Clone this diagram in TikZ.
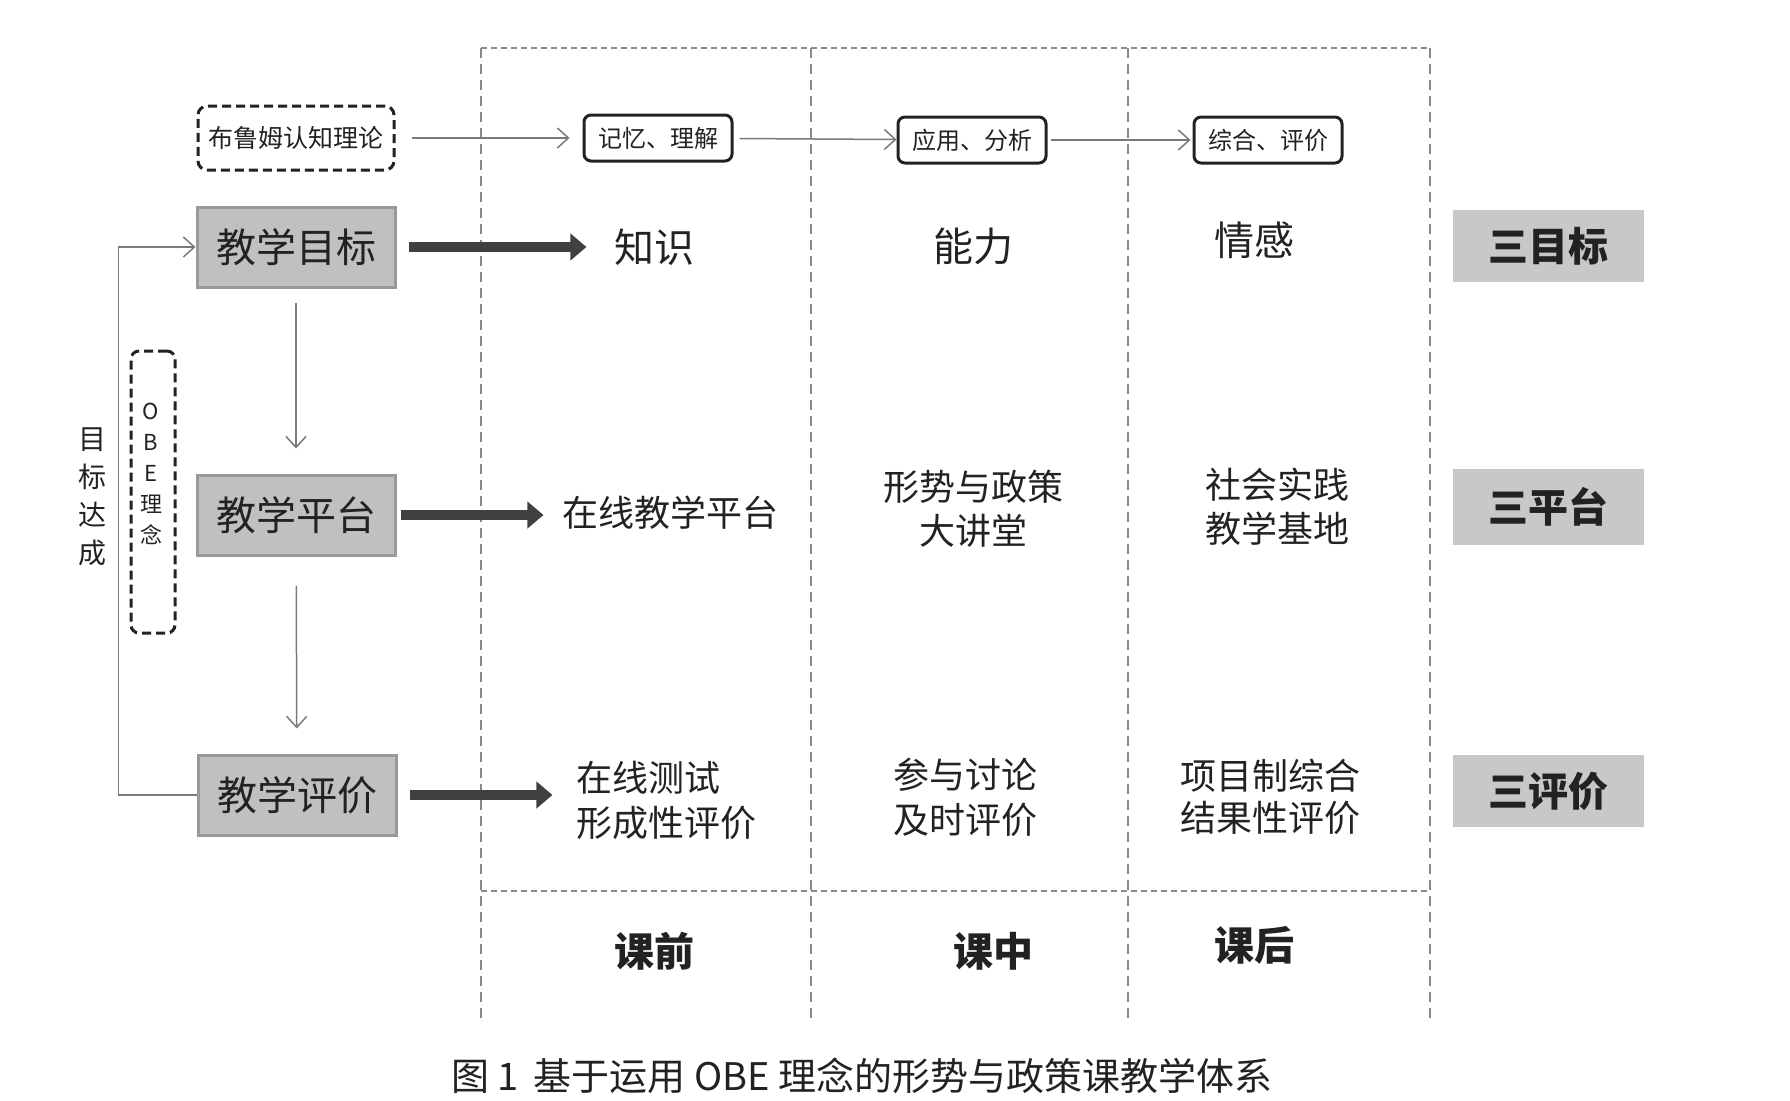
\documentclass[tikz,border=0pt]{standalone}
\usepackage{fontspec}
\setmainfont{Noto Sans CJK SC}
\usetikzlibrary{arrows.meta}

\definecolor{boxgray}{HTML}{C0C0C0}
\definecolor{boxedge}{HTML}{999999}
\definecolor{sidegray}{HTML}{C8C8C8}
\definecolor{framegray}{HTML}{8A8A8A}
\definecolor{linegray}{HTML}{7A7A7A}
\definecolor{inkgray}{HTML}{222222}

\begin{document}
\begin{tikzpicture}[x=1pt,y=-1pt,
    mainbox/.style={draw=boxedge,line width=3pt,fill=boxgray,minimum width=198pt,minimum height=80pt,font=\fontsize{40}{48}\selectfont},
    sidebox/.style={fill=sidegray,minimum width=191pt,minimum height=72pt,font=\fontsize{40}{48}\selectfont\bfseries},
    stagebox/.style={draw=inkgray,line width=3pt,rounded corners=7pt,fill=white,minimum width=148pt,minimum height=46pt,inner sep=2pt,font=\fontsize{24}{28}\selectfont},
    cell/.style={align=center,font=\fontsize{36}{44}\selectfont}]
\useasboundingbox (0,0) rectangle (1790,1100);

% frame of the three stages
\begin{scope}[draw=framegray]
    \draw[line width=2.5pt,dash pattern=on 6pt off 4pt] (481,48) -- (1430,48);
    \draw[line width=2.5pt,dash pattern=on 6pt off 4pt] (481,891) -- (1430,891);
    \foreach \x in {481,811,1128,1430}
        \draw[line width=1.5pt,dash pattern=on 10pt off 6pt] (\x,48) -- (\x,1018);
\end{scope}

\begin{scope}[every node/.style={text=inkgray}]
    \node[draw=inkgray,line width=3pt,dash pattern=on 9pt off 5pt,rounded corners=9pt,
          minimum width=196pt,minimum height=64pt,font=\fontsize{25}{28}\selectfont] (bloom) at (296,138) {布鲁姆认知理论};
    \node[stagebox] (mem) at (658,138) {记忆、理解};
    \node[stagebox] (app) at (972,140) {应用、分析};
    \node[stagebox] (syn) at (1268,140) {综合、评价};

    \node[mainbox] (goal) at (296,247) {教学目标};
    \node[mainbox] (plat) at (296,515) {教学平台};
    \node[mainbox] (eval) at (297,795) {教学评价};

    \node[font=\fontsize{40}{48}\selectfont] (zhishi) at (654,247) {知识};
    \node[font=\fontsize{40}{48}\selectfont] (nengli) at (973,246) {能力};
    \node[font=\fontsize{40}{48}\selectfont] (qinggan) at (1254,240) {情感};

    \node[cell] (online) at (670,513) {在线教学平台};
    \node[cell] (lecture) at (973,509) {形势与政策\\大讲堂};
    \node[cell] (base) at (1277,507) {社会实践\\教学基地};

    \node[cell,align=left,font=\fontsize{36}{45}\selectfont] (test) at (666,800) {在线测试\\形成性评价};
    \node[cell,font=\fontsize{36}{45}\selectfont] (talk) at (965,797) {参与讨论\\及时评价};
    \node[cell,font=\fontsize{36}{42}\selectfont] (proj) at (1270,797) {项目制综合\\结果性评价};

    \node[sidebox] (sgoal) at (1548,246) {三目标};
    \node[sidebox,minimum height=76pt] (splat) at (1548,507) {三平台};
    \node[sidebox] (seval) at (1548,791) {三评价};

    \node[font=\fontsize{40}{48}\selectfont\bfseries] (pre) at (654,951) {课前};
    \node[font=\fontsize{40}{48}\selectfont\bfseries] (mid) at (993,951) {课中};
    \node[font=\fontsize{40}{48}\selectfont\bfseries] (post) at (1254,945) {课后};

    \node[align=center,font=\fontsize{28}{38}\selectfont] (reach) at (92,497) {目\\标\\达\\成};
    \node[draw=inkgray,line width=3pt,dash pattern=on 9pt off 5pt,rounded corners=8pt,
          minimum width=44pt,minimum height=282pt] (obe) at (153,492) {};
    \node[align=center,inner sep=0pt,font=\fontsize{22}{31}\selectfont] (obetext) at (151,474) {O\\B\\E\\理\\念};

    \node[font=\fontsize{38}{44}\selectfont] (title) at (862,1076) {图 1\, 基于运用 OBE 理念的形势与政策课教学体系};
\end{scope}

% thin connectors
\begin{scope}[>={Straight Barb[length=11pt,width=20pt]},
              every edge/.style={draw=linegray,line width=1.5pt}]
    \path[->,shorten <=16pt,shorten >=13pt] (bloom) edge (mem);
    \path[->,shorten <=6pt] (mem) edge (app);
    \path[->,shorten <=3pt,shorten >=2pt] (app) edge (syn);
    \path[->,shorten <=14pt,shorten >=25pt] (goal) edge (plat);
    \path[->,shorten <=29pt,shorten >=25pt] (plat) edge (eval);
    \draw[->,draw=linegray,line width=1.5pt] (eval.west) -- ++(-78,0) |- (goal.west);
\end{scope}

% thick connectors
\begin{scope}[>={Triangle[length=16pt,width=26pt]},
              every edge/.style={draw=black!75,line width=10pt}]
    \path[->,shorten <=12pt,shorten >=24pt] (goal.east) edge (goal.east -| zhishi.west);
    \path[->,shorten <=4pt,shorten >=15pt] (plat.east) edge (plat.east -| online.west);
    \path[->,shorten <=12pt,shorten >=20pt] (eval.east) edge (eval.east -| test.west);
\end{scope}
\end{tikzpicture}
\end{document}
